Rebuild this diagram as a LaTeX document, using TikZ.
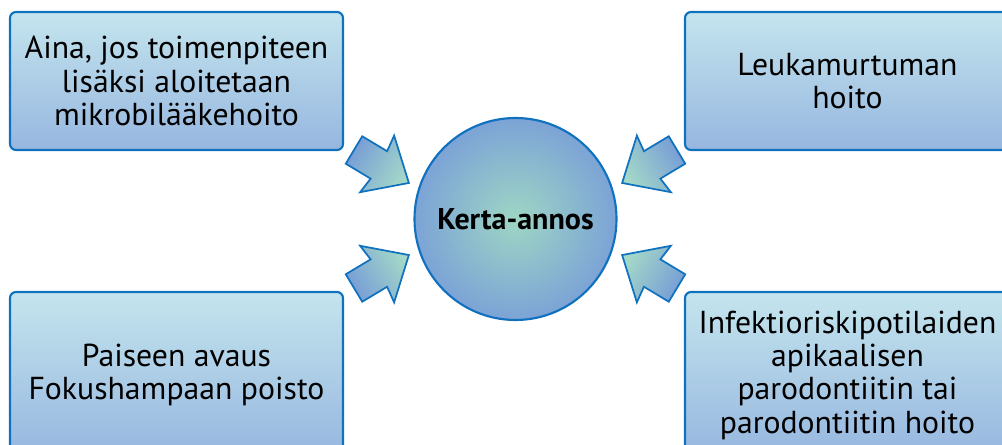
\documentclass[tikz,border=0pt]{standalone}
\usepackage{fontspec}
\setmainfont{PT Sans}
\usetikzlibrary{positioning}

\definecolor{boxtop}{RGB}{196,229,237}
\definecolor{boxbottom}{RGB}{150,182,224}
\definecolor{edgeblue}{RGB}{16,114,190}
\definecolor{hubmint}{RGB}{158,214,196}
\definecolor{hubblue}{RGB}{124,163,214}
\definecolor{arrowblue}{RGB}{118,156,214}
\definecolor{arrowmint}{RGB}{164,216,200}

\begin{document}
\begin{tikzpicture}[x=0.75pt, y=0.75pt,
infobox/.style={rectangle, rounded corners=4.5pt, draw=edgeblue, line width=1.6pt, top color=boxtop, bottom color=boxbottom, align=center, inner sep=0pt, font=\fontsize{23.8}{25}\selectfont},
hubnode/.style={circle, draw=edgeblue, line width=1.6pt, inner color=hubmint, outer color=hubblue, minimum size=151.5pt, font=\fontsize{22.5}{26}\selectfont\bfseries},
blockarrow/.style={draw=edgeblue, line width=1.3pt, line join=miter, bottom color=arrowblue, top color=arrowmint},
]
\useasboundingbox (0,0) rectangle (1002,445);

%Nodes
\node[hubnode] (hub) at (515.5,226) {Kerta-annos};
\node[infobox, minimum width=249.75pt, minimum height=103.5pt] (always) at (176.5,364)
  {Aina, jos toimenpiteen\\lisäksi aloitetaan\\mikrobilääkehoito};
\node[infobox, minimum width=243.75pt, minimum height=103.5pt] (fracture) at (847.5,364)
  {Leukamurtuman\\hoito};
\node[infobox, minimum width=249.75pt, minimum height=124.5pt] (abscess) at (176.5,70)
  {Paiseen avaus\\Fokushampaan poisto};
\node[infobox, minimum width=243.75pt, minimum height=124.5pt] (infection) at (847.5,70)
  {Infektioriskipotilaiden\\apikaalisen\\parodontiitin tai\\parodontiitin hoito};

%Arrows
\foreach \tx/\ty/\ang in {354/295/-31, 677/295/211, 354/157/31, 677/157/149}
  \draw[blockarrow, shading angle=\ang-90, shift={(\tx,\ty)}, rotate=\ang]
    (0,16) -- (29,16) -- (27,33) -- (64,0) -- (27,-33) -- (29,-16) -- (0,-16) -- cycle;

\end{tikzpicture}
\end{document}
